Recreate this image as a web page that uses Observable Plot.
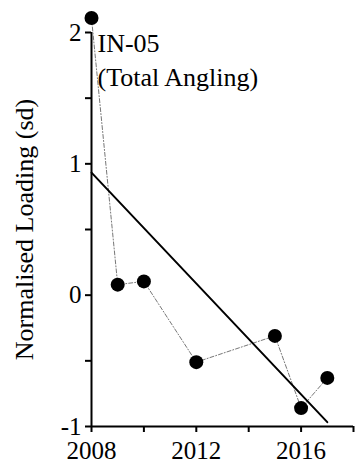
<!DOCTYPE html>
<html>
<head>
<meta charset="utf-8">
<script src="https://cdn.jsdelivr.net/npm/d3@7"></script>
<script src="https://cdn.jsdelivr.net/npm/@observablehq/plot@0.6"></script>
<style>
  html, body { margin: 0; padding: 0; background: #fff; }
  svg { overflow: visible; }
  svg, svg text { font-family: "Liberation Serif", "Times New Roman", serif !important; }
</style>
</head>
<body>
<div id="chart"></div>
<script>
const years = [2008, 2009, 2010, 2012, 2015, 2016, 2017];
const loadings = [2.11, 0.08, 0.105, -0.51, -0.31, -0.86, -0.63];
const xTicks = [2008, 2010, 2012, 2014, 2016, 2018];
const xTickLabels = [2008, 2012, 2016];
const yTicks = [-1, -0.5, 0, 0.5, 1, 1.5, 2];
const yTickLabels = [-1, 0, 1, 2];
const yLabel = ["Normalised Loading (sd)"];
const annotation = ["IN-05\n(Total Angling)"];

const data = years.map((year, i) => ({year, value: loadings[i]}));

const chart = Plot.plot({
  width: 355,
  height: 466,
  marginLeft: 91,
  marginRight: 2,
  marginTop: 32,
  marginBottom: 40,
  style: {fontSize: "25px", color: "#000", background: "#fff", overflow: "visible"},
  x: {domain: [2008, 2018]},
  y: {domain: [-1, 2]},
  marks: [
    Plot.axisX({
      ticks: xTicks,
      tickFormat: d => xTickLabels.includes(d) ? String(d) : "",
      tickSize: 6,
      tickPadding: 9,
      strokeWidth: 2,
      stroke: "#000",
      fill: "#000",
      label: null
    }),
    Plot.axisY({
      ticks: yTicks,
      tickFormat: d => yTickLabels.includes(d) ? String(d) : "",
      tickSize: 6,
      tickPadding: 4,
      strokeWidth: 2,
      stroke: "#000",
      fill: "#000",
      label: null
    }),
    Plot.ruleX([2008], {stroke: "#000", strokeWidth: 2}),
    Plot.ruleY([-1], {stroke: "#000", strokeWidth: 2}),
    Plot.line(data, {x: "year", y: "value", stroke: "#777", strokeWidth: 1, strokeDasharray: "4,2,1,2"}),
    Plot.linearRegressionY(data, {x: "year", y: "value", ci: 0, stroke: "#000", strokeWidth: 2}),
    Plot.dot(data, {x: "year", y: "value", r: 7, fill: "#000", stroke: "none"}),
    Plot.text(annotation, {
      text: d => d,
      frameAnchor: "top-left",
      textAnchor: "start",
      lineAnchor: "top",
      lineHeight: 1.3,
      dx: 6,
      dy: -4,
      fontSize: 26,
      fill: "#000"
    }),
    Plot.text(yLabel, {
      text: d => d,
      frameAnchor: "left",
      rotate: -90,
      textAnchor: "middle",
      lineAnchor: "middle",
      dx: -67,
      fontSize: 26,
      fill: "#000"
    })
  ]
});
document.getElementById("chart").appendChild(chart);
</script>
</body>
</html>
